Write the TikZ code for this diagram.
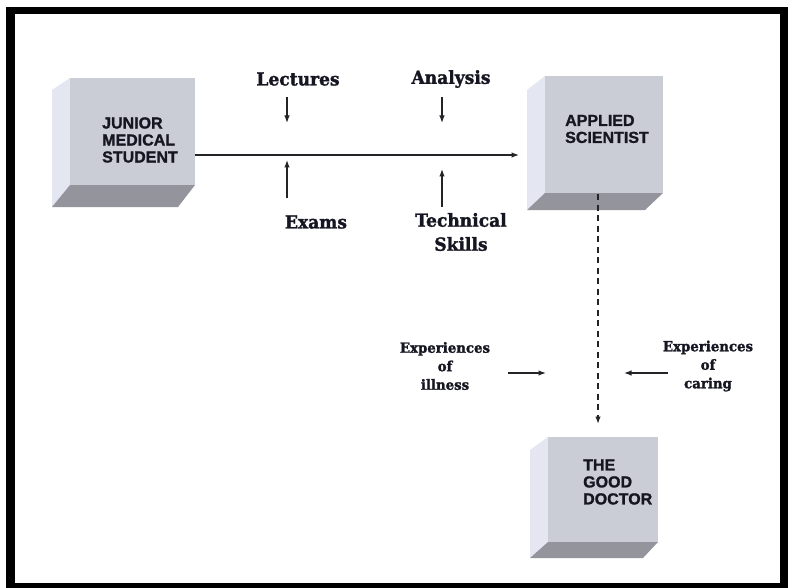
\documentclass[tikz,border=0pt]{standalone}
\usepackage{fontspec}
\usetikzlibrary{arrows.meta}
\newfontfamily\boxfont[BoldFeatures={FakeBold=1.3}]{Liberation Sans}
\newfontfamily\labfont[FakeStretch=0.95, BoldFeatures={FakeBold=1.6}]{DejaVu Serif}
\definecolor{frontc}{RGB}{202,204,214}
\definecolor{leftc}{RGB}{228,230,242}
\definecolor{botc}{RGB}{148,149,156}
\definecolor{linec}{RGB}{35,35,40}
\definecolor{textc}{RGB}{22,22,34}
\tikzset{
  front/.style={fill=frontc, draw=none},
  leftface/.style={fill=leftc, draw=none},
  botface/.style={fill=botc, draw=none},
  boxtext/.style={font=\boxfont\bfseries\fontsize{16}{17}\selectfont, text=textc, align=left, inner sep=0pt, anchor=west},
  lab/.style={font=\labfont\bfseries\fontsize{18}{24}\selectfont, text=textc, align=center, inner sep=0pt},
  smalllab/.style={font=\labfont\bfseries\fontsize{14}{18.5}\selectfont, text=textc, align=center, inner sep=0pt},
  arr/.style={draw=linec, line width=1.3pt, -{Latex[length=7.5pt,width=5.5pt]}},
  dasharr/.style={draw=linec, line width=1.4pt, dash pattern=on 6pt off 4.5pt, -{Latex[length=7.5pt,width=5.5pt]}}
}
\begin{document}
\begin{tikzpicture}[x=1pt,y=-1pt]
\useasboundingbox (0,0) rectangle (789,588);
% frame
\fill[black] (6,7) rectangle (788,588);
\fill[white] (15,14) rectangle (780,583);

% Junior medical student box
\fill[leftface] (70,78) -- (52,90) -- (52,207) -- (70,185) -- cycle;
\fill[botface] (70,185) -- (195,185) -- (178,207) -- (52,207) -- cycle;
\node[front, minimum width=125pt, minimum height=107pt, inner sep=0pt] (junior) at (132.5,131.5) {};
\node[boxtext] (juniort) at (102,140) {JUNIOR\\MEDICAL\\STUDENT};

% Applied scientist box
\fill[leftface] (545,76) -- (527,90) -- (527,210) -- (545,193) -- cycle;
\fill[botface] (545,193) -- (663,193) -- (645,210) -- (527,210) -- cycle;
\node[front, minimum width=118pt, minimum height=117pt, inner sep=0pt] (applied) at (604,134.5) {};
\node[boxtext] (appliedt) at (565,129) {APPLIED\\SCIENTIST};

% Good doctor box
\fill[leftface] (548,437) -- (530,450) -- (530,558) -- (548,542) -- cycle;
\fill[botface] (548,542) -- (658,542) -- (643,558) -- (530,558) -- cycle;
\node[front, minimum width=110pt, minimum height=105pt, inner sep=0pt] (doctor) at (603,489.5) {};
\node[boxtext] (doctort) at (583,482) {THE\\GOOD\\DOCTOR};

% main arrow
\coordinate (mainstart) at (195,155);
\coordinate (mainend) at (519,155);
\draw[arr] (mainstart) -- (mainend);

% top labels
\node[lab] (lectures) at (298,79) {Lectures};
\node[lab] (analysis) at (451,79) {Analysis};
\node[lab] (exams) at (316,222) {Exams};
\node[lab] (technical) at (461,232) {Technical\\Skills};

\coordinate (lecA) at (287,97);  \coordinate (lecB) at (287,123);
\coordinate (anaA) at (442,97);  \coordinate (anaB) at (442,123);
\coordinate (exaA) at (287,198); \coordinate (exaB) at (287,160);
\coordinate (tecA) at (442,207); \coordinate (tecB) at (442,169);
\draw[arr] (lecA) -- (lecB);
\draw[arr] (anaA) -- (anaB);
\draw[arr] (exaA) -- (exaB);
\draw[arr] (tecA) -- (tecB);

% dashed arrow
\coordinate (dashA) at (598,194);
\coordinate (dashB) at (598,424);
\draw[dasharr] (dashA) -- (dashB);

% experiences
\node[smalllab] (illness) at (445,366) {Experiences\\of\\illness};
\node[smalllab] (caring) at (708,366) {Experiences\\of\\caring};
\coordinate (illA) at (508,373); \coordinate (illB) at (546,373);
\coordinate (carA) at (668,373); \coordinate (carB) at (624,373);
\draw[arr] (illA) -- (illB);
\draw[arr] (carA) -- (carB);
\end{tikzpicture}
\end{document}
